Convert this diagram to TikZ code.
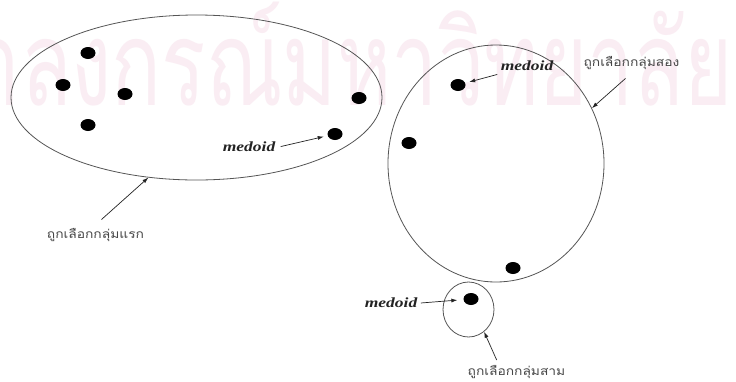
\documentclass[tikz,border=0pt]{standalone}
\usepackage{fontspec}
\setmainfont{Liberation Serif}
\newfontfamily\wmfont[Script=Thai,FakeStretch=0.70]{Loma}
\newfontfamily\thailabel[Script=Thai,FakeStretch=1.15]{Loma}
\newfontfamily\medfont[FakeStretch=1.25]{Liberation Serif}
\usetikzlibrary{shapes.geometric,arrows.meta}
\definecolor{wm}{RGB}{250,237,243}
\definecolor{edge}{RGB}{85,85,85}
\definecolor{ink}{RGB}{35,35,35}
\definecolor{thaiink}{RGB}{70,70,70}
\begin{document}
\begin{tikzpicture}[x=1pt,y=-1pt,
  cluster/.style={draw=edge, line width=0.8pt, ellipse, inner sep=0pt},
  dot/.style={fill=black, ellipse, minimum width=15pt, minimum height=12pt, inner sep=0pt},
  med/.style={font={\fontsize{14}{16}\medfont\bfseries\itshape}, text=ink},
  thai/.style={font={\fontsize{12}{14}\thailabel}, text=thaiink},
  arr/.style={draw=ink, line width=0.7pt, -{Latex[length=6pt,width=4pt]}}]
\fill[white] (0,0) rectangle (736,381);
\useasboundingbox (0,0) rectangle (736,381);
% watermark
\begin{scope}
\clip (0,0) rectangle (736,381);
\node[anchor=base east, text=wm, font={\fontsize{118}{118}\wmfont}, inner sep=0pt] (wmark) at (733,105) {จุฬาลงกรณ์มหาวิทยาลัย};
\end{scope}
% clusters
\node[cluster, minimum width=371pt, minimum height=165pt] (c1) at (196.5,97.5) {};
\node[cluster, minimum width=216pt, minimum height=237pt] (c2) at (496,163.5) {};
\node[cluster, minimum width=51pt, minimum height=55pt] (c3) at (468.5,309.5) {};
% points
\node[dot] (d1) at (88,53) {};
\node[dot] (d2) at (63,85) {};
\node[dot] (d3) at (125,94) {};
\node[dot] (d4) at (88,125) {};
\node[dot] (d5) at (359,98) {};
\node[dot] (d6) at (335,134) {};
\node[dot] (d7) at (458,85) {};
\node[dot] (d8) at (409,143) {};
\node[dot] (d9) at (513,268) {};
\node[dot] (d10) at (471,299) {};
% labels
\node[med] (m1) at (249,147) {medoid};
\node[med] (m2) at (527,66) {medoid};
\node[med] (m3) at (391,303) {medoid};
\node[thai] (l1) at (95.5,235) {ถูกเลือกกลุ่มแรก};
\node[thai] (l2) at (631.5,63) {ถูกเลือกกลุ่มสอง};
\node[thai] (l3) at (516.5,372) {ถูกเลือกกลุ่มสาม};
% arrows
\draw[arr, shorten <=2pt, shorten >=4pt] (m1.east) -- (d6);
\draw[arr, shorten <=8pt] (l1.north) -- (c1.239);
\draw[arr, shorten >=4pt] (m2.south west) -- (d7);
\draw[arr, shorten <=8pt] (l2.south) -- (c2.30);
\draw[arr, shorten >=6pt] (m3.east) -- (d10);
\draw[arr, shorten <=2pt] ([xshift=-19pt]l3.north) -- (c3.-55);
\end{tikzpicture}
\end{document}
